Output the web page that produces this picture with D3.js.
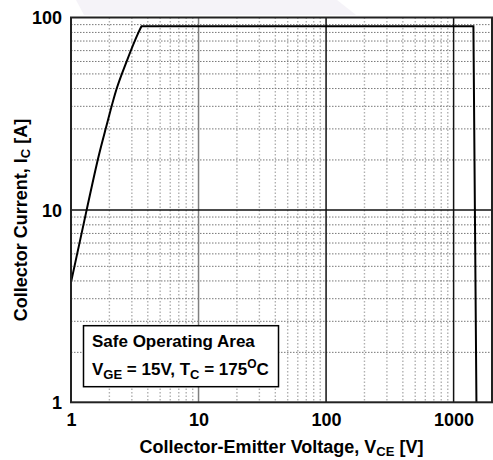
<!DOCTYPE html>
<html><head><meta charset="utf-8">
<script src="https://cdn.jsdelivr.net/npm/d3@7"></script>
<style>
html,body{margin:0;padding:0;background:#fff;}
svg{display:block;}
text{font-family:"Liberation Sans",Arial,Helvetica,sans-serif;font-weight:bold;fill:#000;}
</style></head>
<body>
<svg id="c" width="493" height="460"></svg>
<script>
// ---- data ----
const xTicks = [1, 10, 100, 1000];
const xTickLabels = ["1", "10", "100", "1000"];
const yTicks = [1, 10, 100];
const yTickLabels = ["1", "10", "100"];
const xDomain = [1, 2000];
const yDomain = [1, 100];
// Safe operating area boundary: rising part, then flat top and the drop
const riseV = [1, 1.327, 1.656, 1.868, 2.279, 2.728, 3.363, 3.57];
const riseI = [4.2, 10, 19.3, 26.3, 42.6, 59.0, 82.9, 90];
const flatV = [3.57, 1430, 1510];
const flatI = [90, 90, 1];
const xTitle = ["Collector-Emitter Voltage, V", "CE", " [V]"];
const yTitle = ["Collector Current, I", "C", " [A]"];
const legend1 = "Safe Operating Area";

// ---- layout ----
const svg = d3.select("#c");
const L = 71, R = 492, T = 17.5, B = 402.3;
const x = d3.scaleLog().domain(xDomain).range([L, R]);
const y = d3.scaleLog().domain(yDomain).range([B, T]);

// faint watermark fragment
svg.append("polygon").attr("points", "76,0 337,0 356,15 84,15").attr("fill", "#f5f3f8");

svg.append("rect").attr("x", L).attr("y", T).attr("width", R - L).attr("height", B - T).attr("fill", "#fff");

// minor grids
const xMinor = [];
[1, 10, 100].forEach(d => { for (let k = 2; k <= 9; k++) xMinor.push(d * k); });
const yMinor = [];
[1, 10].forEach(d => { for (let k = 1; k <= 10; k++) yMinor.push(d * (1 + 9 * k / 11)); });

const g = svg.append("g");
g.selectAll(".vx").data(xMinor).join("line")
  .attr("x1", d => x(d)).attr("x2", d => x(d)).attr("y1", T).attr("y2", B)
  .attr("stroke", "#b0b0b0").attr("stroke-width", 1.4).attr("stroke-dasharray", "1.5,2");
g.selectAll(".hy").data(yMinor).join("line")
  .attr("y1", d => y(d)).attr("y2", d => y(d)).attr("x1", L).attr("x2", R)
  .attr("stroke", "#777").attr("stroke-width", 1).attr("stroke-dasharray", "1.5,1.5");

// major grids
g.selectAll(".mx").data(xTicks.slice(1)).join("line")
  .attr("x1", d => x(d)).attr("x2", d => x(d)).attr("y1", T).attr("y2", B)
  .attr("stroke", (d, i) => i === 0 ? "#808080" : "#111").attr("stroke-width", 1.5);
g.selectAll(".my").data(yTicks.slice(1, -1)).join("line")
  .attr("y1", d => y(d)).attr("y2", d => y(d)).attr("x1", L).attr("x2", R)
  .attr("stroke", "#111").attr("stroke-width", 1.5);

// SOA curve
const risePts = riseV.map((v, i) => [v, riseI[i]]);
const flatPts = flatV.map((v, i) => [v, flatI[i]]);
svg.append("path").datum(risePts)
  .attr("d", d3.line().curve(d3.curveMonotoneX).x(d => x(d[0])).y(d => y(d[1])))
  .attr("fill", "none").attr("stroke", "#000").attr("stroke-width", 2).attr("stroke-linecap", "round");
svg.append("path").datum(flatPts)
  .attr("d", d3.line().x(d => x(d[0])).y(d => y(d[1])))
  .attr("fill", "none").attr("stroke", "#000").attr("stroke-width", 2).attr("stroke-linejoin", "miter");

// frame
svg.append("rect").attr("x", L).attr("y", T).attr("width", R - L).attr("height", B - T)
  .attr("fill", "none").attr("stroke", "#222").attr("stroke-width", 2);

// axes (tick labels via d3 axes)
const xAxis = d3.axisBottom(x).tickValues(xTicks).tickFormat((d, i) => xTickLabels[i]).tickSize(0).tickPadding(10);
const xa = svg.append("g").attr("transform", `translate(0,${B})`).call(xAxis);
xa.select(".domain").remove();
xa.selectAll("text").attr("font-size", 18).attr("dy", "0.71em").attr("y", 11)
  .style("font-family", '"Liberation Sans",Arial,sans-serif').style("font-weight", "bold");

const yAxis = d3.axisLeft(y).tickValues(yTicks).tickFormat((d, i) => yTickLabels[i]).tickSize(0).tickPadding(9);
const ya = svg.append("g").attr("transform", `translate(${L},0)`).call(yAxis);
ya.select(".domain").remove();
ya.selectAll("text").attr("font-size", 18).attr("dy", "0.35em")
  .style("font-family", '"Liberation Sans",Arial,sans-serif').style("font-weight", "bold");

// axis titles
const xt = svg.append("text").attr("x", (L + R) / 2).attr("y", 453).attr("text-anchor", "middle").attr("font-size", 18);
xt.append("tspan").text(xTitle[0]);
xt.append("tspan").attr("font-size", 13).attr("dy", 3).text(xTitle[1]);
xt.append("tspan").attr("dy", -3).text(xTitle[2]);

const yt = svg.append("text").attr("transform", "translate(27,220) rotate(-90)").attr("text-anchor", "middle").attr("font-size", 18);
yt.append("tspan").text(yTitle[0]);
yt.append("tspan").attr("font-size", 13).attr("dy", 3).text(yTitle[1]);
yt.append("tspan").attr("dy", -3).text(yTitle[2]);

// legend box
svg.append("rect").attr("x", 83.5).attr("y", 325.7).attr("width", 195).attr("height", 61)
  .attr("fill", "#fff").attr("stroke", "#000").attr("stroke-width", 1.5);
svg.append("text").attr("x", 92).attr("y", 347).attr("font-size", 17).text(legend1);
const l2 = svg.append("text").attr("x", 92).attr("y", 375).attr("font-size", 17);
l2.append("tspan").text("V");
l2.append("tspan").attr("font-size", 13).attr("dy", 4).text("GE");
l2.append("tspan").attr("dy", -4).text(" = 15V, T");
l2.append("tspan").attr("font-size", 13).attr("dy", 4).text("C");
l2.append("tspan").attr("dy", -4).text(" = 175");
l2.append("tspan").attr("font-size", 12).attr("dy", -7).text("O");
l2.append("tspan").attr("dy", 7).text("C");
</script>
</body></html>
